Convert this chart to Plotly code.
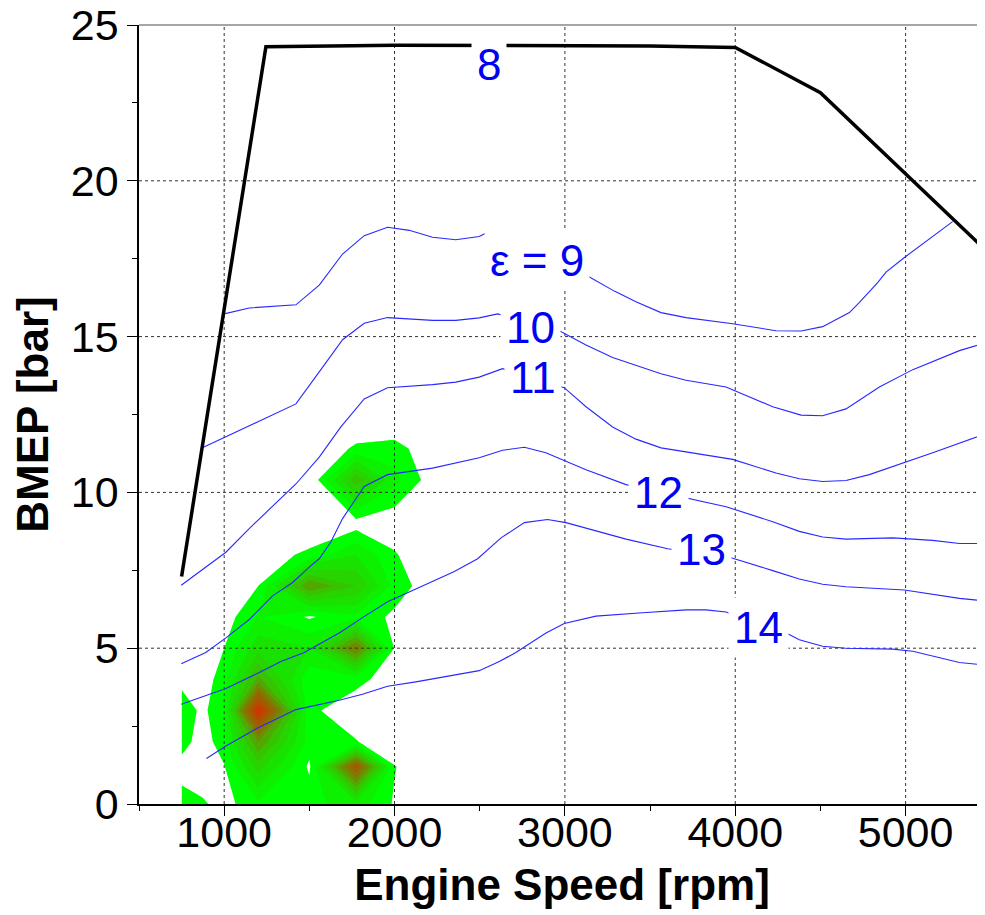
import plotly.graph_objects as go

# ---------------- data ----------------
speed_ticks = [1000, 2000, 3000, 4000, 5000]
bmep_ticks = [0, 5, 10, 15, 20, 25]
x_range = [500, 5466]
y_range = [0, 25]

# full-load curve (also the eps = 8 line)
full_load_speed = [750, 1245, 2000, 3500, 4000, 4500, 5500]
full_load_bmep = [7.3, 24.3, 24.35, 24.33, 24.28, 22.83, 17.62]

# iso compression-ratio lines
eps9_speed = [1000, 1147, 1421, 1558, 1695, 1822, 1959, 2086, 2223, 2359, 2497, 2536,
              3139, 3290, 3417, 3564, 3711, 3985, 4239, 4386, 4513, 4670, 4729, 4836,
              4885, 4993, 5276]
eps9_bmep = [15.73, 15.92, 16.02, 16.65, 17.65, 18.24, 18.51, 18.41, 18.19, 18.11, 18.21, 18.32,
             16.93, 16.46, 16.12, 15.77, 15.61, 15.41, 15.19, 15.18, 15.32, 15.77, 16.1, 16.73,
             17.07, 17.54, 18.69]

eps10_speed = [872, 1147, 1421, 1558, 1695, 1822, 1959, 2223, 2359, 2497, 2605,
               2967, 3124, 3280, 3564, 3711, 3946, 4220, 4386, 4513, 4650, 4846, 5042,
               5316, 5463]
eps10_bmep = [11.43, 12.14, 12.84, 13.87, 14.9, 15.43, 15.61, 15.52, 15.52, 15.6, 15.73,
              15.19, 14.73, 14.33, 13.81, 13.6, 13.38, 12.75, 12.48, 12.46, 12.68, 13.38, 13.94,
              14.55, 14.79]

eps11_speed = [748, 892, 1010, 1147, 1284, 1421, 1558, 1685, 1822, 1959, 2223, 2359, 2497,
               2634, 2996, 3124, 3280, 3417, 3564, 3985, 4239, 4376, 4513, 4650, 4787,
               4993, 5159, 5463]
eps11_bmep = [7.02, 7.59, 8.08, 8.84, 9.54, 10.27, 11.13, 12.1, 13.0, 13.36, 13.46, 13.54, 13.7,
              13.97, 13.36, 12.75, 12.1, 11.71, 11.43, 11.06, 10.62, 10.44, 10.35, 10.38, 10.57,
              10.95, 11.27, 11.87]

eps12_speed = [748, 892, 1010, 1147, 1284, 1400, 1509, 1558, 1626, 1695, 1822, 1959, 2223,
               2497, 2634, 2762, 2888, 3124, 3359, 3711, 3946, 4220, 4376, 4513, 4650,
               4924, 5159, 5316, 5463]
eps12_bmep = [4.5, 4.86, 5.33, 5.92, 6.68, 7.1, 7.65, 7.87, 8.41, 9.16, 10.19, 10.57, 10.78,
              11.11, 11.35, 11.45, 11.27, 10.73, 10.25, 9.81, 9.54, 9.06, 8.75, 8.57, 8.5,
              8.54, 8.46, 8.36, 8.36]

eps13_speed = [748, 892, 1010, 1206, 1333, 1470, 1675, 1812, 1959, 2125, 2351, 2488, 2625,
               2762, 2898, 3006, 3359, 3603, 3966, 4220, 4376, 4513, 4650, 4993, 5316, 5463]
eps13_bmep = [3.2, 3.49, 3.71, 4.22, 4.57, 4.86, 5.49, 5.98, 6.49, 6.9, 7.46, 7.87, 8.54,
              9.03, 9.13, 9.03, 8.5, 8.19, 7.92, 7.49, 7.22, 7.05, 6.97, 6.87, 6.6, 6.52]

eps14_speed = [896, 1010, 1196, 1421, 1675, 1812, 1959, 2125, 2497, 2615, 2712, 2889, 2996,
               3182, 3456, 3711, 3828, 3946, 4308, 4376, 4513, 4650, 4924, 5042, 5316, 5463]
eps14_bmep = [1.46, 1.86, 2.44, 3.03, 3.33, 3.52, 3.78, 3.92, 4.28, 4.57, 4.86, 5.49, 5.79,
              6.03, 6.14, 6.23, 6.23, 6.16, 5.46, 5.27, 5.06, 5.0, 4.97, 4.9, 4.54, 4.46]

# contour labels
label_text = ["8", "\u03b5 = 9", "10", "11", "12", "13", "14"]
label_speed = [2556, 2838, 2797, 2814, 3548, 3800, 4136]
label_bmep = [23.74, 17.44, 15.3, 13.68, 9.99, 8.17, 5.67]

# operating-point density (time share) on a coarse grid
grid_speed = [750, 875, 1000, 1200, 1500, 1775, 2000, 2250]
grid_bmep = [0, 1.2, 2, 3, 4, 5, 6, 7, 8, 9, 10.4, 11.4, 12.4]
grid_share = [
    [1.3, 1.1, 0.7, 1.6, 1.5, 2.2, 0.9, 0],
    [0.7, 0.5, 0.95, 3.6, 0.85, 8.0, 1.05, 0],
    [1.35, 0.6, 1.45, 5.5, 1.4, 1.05, 0.3, 0],
    [1.5, 0.8, 1.7, 10.0, 1.2, 0.4, 0.1, 0],
    [0.75, 0.5, 1.5, 5.0, 1.2, 1.3, 0.5, 0],
    [0.3, 0.3, 1.0, 3.0, 2.5, 6.5, 0.95, 0],
    [0, 0, 0.6, 1.8, 0.9, 1.6, 0.8, 0],
    [0, 0, 0, 1.0, 5.5, 4.0, 1.5, 0.3],
    [0, 0, 0, 0.5, 1.2, 2.5, 1.1, 0],
    [0, 0, 0, 0, 0.2, 0.6, 0.4, 0],
    [0, 0, 0, 0, 0.2, 4.5, 2.0, 0.4],
    [0, 0, 0, 0, 0, 1.2, 1.4, 0.2],
    [0, 0, 0, 0, 0, 0, 0, 0],
]

# ---------------- figure ----------------
FONT = "Liberation Sans, Arial, Helvetica, sans-serif"
BLUE_LINE = "rgb(40,40,255)"
BLUE_TEXT = "rgb(0,0,245)"

c_start, c_end, c_size = 1.0, 9.5, 0.75
n_levels = int((c_end - c_start) // c_size) + 1
colorscale = [
    [0.0, "rgba(255,255,255,0)"],
    [0.5 / n_levels, "rgba(255,255,255,0)"],
    [1.0 / n_levels, "rgb(0,255,0)"],
    [0.4, "rgb(50,200,0)"],
    [0.65, "rgb(130,120,0)"],
    [1.0, "rgb(205,55,0)"],
]

fig = go.Figure()

fig.add_trace(go.Contour(
    x=grid_speed, y=grid_bmep, z=grid_share,
    contours=dict(start=c_start, end=c_end, size=c_size, coloring="fill", showlines=False),
    line=dict(width=0, smoothing=0),
    colorscale=colorscale, showscale=False, hoverinfo="skip",
))

# dashed grid drawn above the density map
gx, gy = [], []
for v in speed_ticks:
    gx += [v, v, None]
    gy += [y_range[0], y_range[1], None]
for v in bmep_ticks[1:-1]:
    gx += [x_range[0], x_range[1], None]
    gy += [v, v, None]
fig.add_trace(go.Scatter(x=gx, y=gy, mode="lines",
                         line=dict(color="#333333", width=1, dash="3px,3px"),
                         hoverinfo="skip", showlegend=False))

for xs, ys in [(eps9_speed, eps9_bmep), (eps10_speed, eps10_bmep), (eps11_speed, eps11_bmep),
               (eps12_speed, eps12_bmep), (eps13_speed, eps13_bmep), (eps14_speed, eps14_bmep)]:
    fig.add_trace(go.Scatter(x=xs, y=ys, mode="lines",
                             line=dict(color=BLUE_LINE, width=1.1),
                             hoverinfo="skip", showlegend=False))

fig.add_trace(go.Scatter(x=full_load_speed, y=full_load_bmep, mode="lines",
                         line=dict(color="black", width=3.5),
                         hoverinfo="skip", showlegend=False))

for t, lx, ly in zip(label_text, label_speed, label_bmep):
    fig.add_annotation(x=lx, y=ly, text=t, showarrow=False,
                       font=dict(family=FONT, size=44, color=BLUE_TEXT),
                       bgcolor="white", borderpad=5, xanchor="center", yanchor="middle")

fig.add_shape(type="line", xref="paper", yref="paper", x0=0, x1=1, y0=1, y1=1,
              line=dict(color="#888888", width=1.5))

# the page body adds an 8px margin, so the figure is 8px smaller on each axis
fig.update_layout(
    width=977, height=907,
    margin=dict(l=131, r=0, t=17, b=111),
    paper_bgcolor="white", plot_bgcolor="white",
    showlegend=False,
    font=dict(family=FONT, color="black"),
    xaxis=dict(
        range=x_range, tickvals=speed_ticks, ticktext=[str(v) for v in speed_ticks],
        showgrid=False, zeroline=False, showline=True, linecolor="black", linewidth=1.5,
        ticks="outside", ticklen=10, tickwidth=1.2, tickcolor="black",
        minor=dict(dtick=500, tick0=0, ticks="outside", ticklen=5, tickcolor="black", showgrid=False),
        tickfont=dict(family=FONT, size=43, color="black"),
        ticklabelstandoff=-20, ticklabeloverflow="allow",
        title=dict(text="Engine Speed [rpm]", standoff=14,
                   font=dict(family=FONT, size=44, color="black", weight="bold")),
        automargin=False,
    ),
    yaxis=dict(
        range=y_range, tickvals=bmep_ticks, ticktext=[str(v) for v in bmep_ticks],
        showgrid=False, zeroline=False, showline=True, linecolor="black", linewidth=1.5,
        ticks="outside", ticklen=10, tickwidth=1.2, tickcolor="black",
        minor=dict(dtick=2.5, tick0=0, ticks="outside", ticklen=5, tickcolor="black", showgrid=False),
        tickfont=dict(family=FONT, size=43, color="black"),
        ticklabeloverflow="allow",
        title=dict(text="BMEP [bar]", standoff=12,
                   font=dict(family=FONT, size=44, color="black", weight="bold")),
        automargin=False,
    ),
)

fig.write_html("out.html")
